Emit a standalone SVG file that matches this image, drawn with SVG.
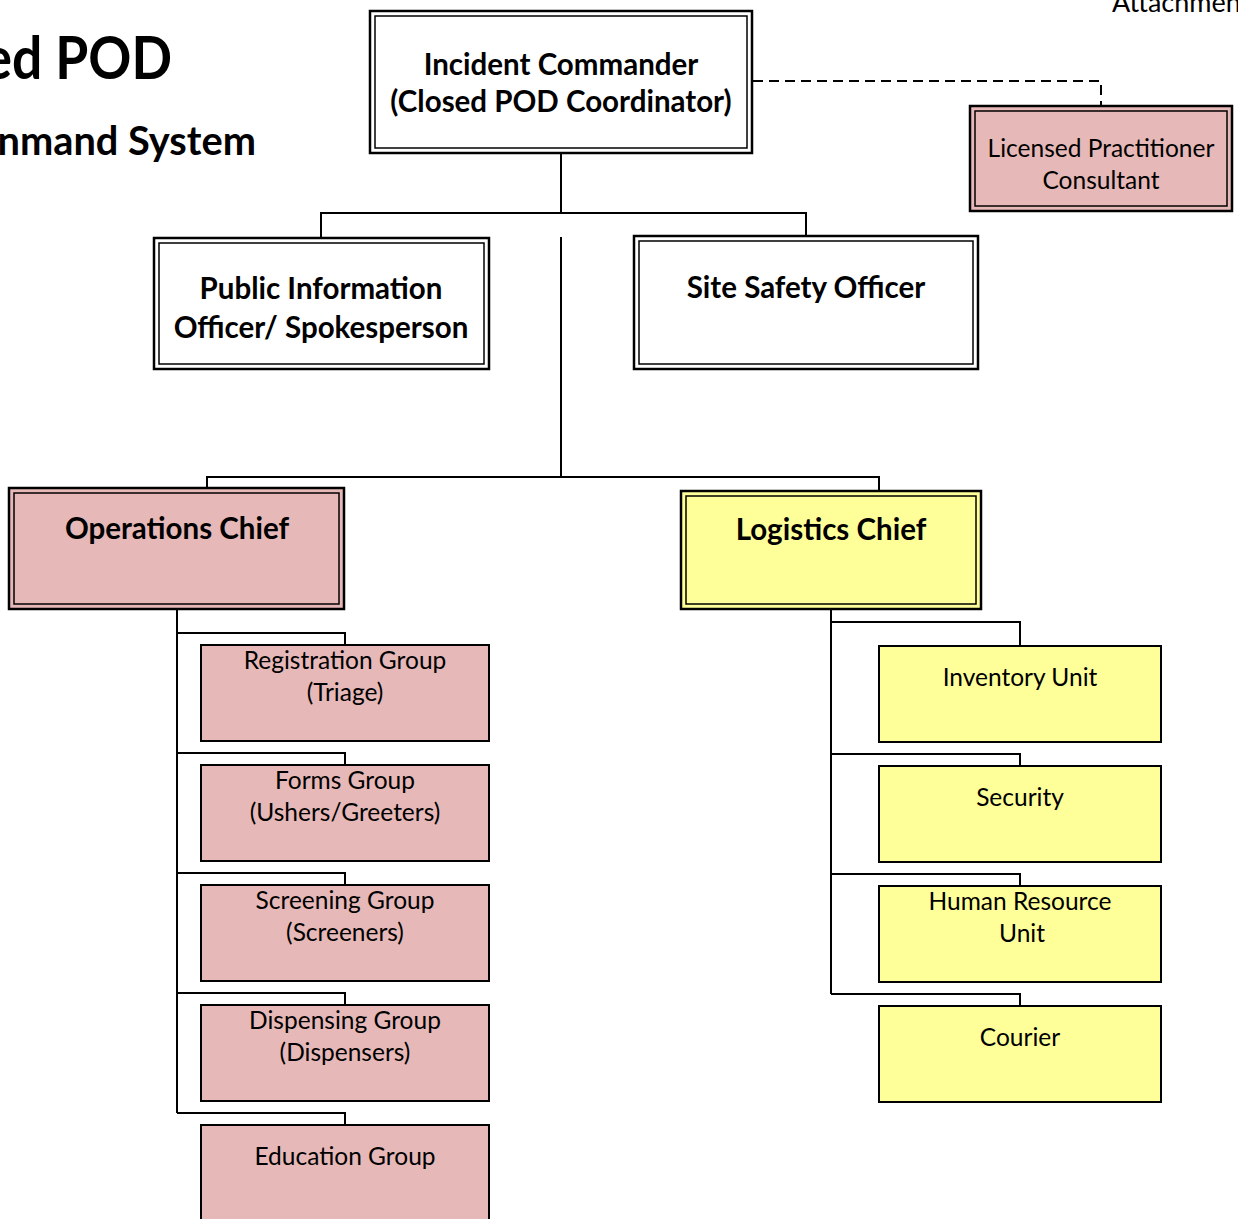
<svg xmlns="http://www.w3.org/2000/svg" width="1238" height="1219" viewBox="0 0 1238 1219">
<style>
text{font-family:Lato,"Open Sans","Liberation Sans",sans-serif;fill:#000;text-anchor:middle}
.b{font-weight:bold;font-size:29.5px}
.r{font-size:24.5px}
.o{fill:none;stroke:#000;stroke-width:2.5}
.i{fill:none;stroke:#000;stroke-width:1.5}
.pink{fill:#e6b8b7}
.yel{fill:#ffff99}
.wh{fill:#fff}
.s{stroke:#000;stroke-width:2}
.c{fill:none;stroke:#000;stroke-width:2}
</style>
<rect width="1238" height="1219" fill="#fff"/>
<g id="title">
<text transform="translate(172,79) scale(0.89,1)" x="0" y="0" style="font-weight:bold;font-size:60px;text-anchor:end">ed POD</text>
<text transform="translate(256,155) scale(0.97,1)" x="0" y="0" style="font-weight:bold;font-size:41px;text-anchor:end">nmand System</text>
<text x="1112" y="12" style="font-size:27px;text-anchor:start">Attachment</text>
</g>
<g id="connectors">
<path class="c" d="M561,154 V213 M321,238 V213 H806 V236"/>
<path class="c" d="M561,237 V477 M207,488 V477 H879 V491"/>
<path class="c" d="M753,81 H1101 V105" stroke-dasharray="10,6"/>
<path class="c" d="M177,610 V1113 M177,633 H345 V645 M177,753 H345 V765 M177,873 H345 V885 M177,993 H345 V1005 M177,1113 H345 V1125"/>
<path class="c" d="M831,610 V994 M831,622 H1020 V646 M831,754 H1020 V766 M831,874 H1020 V886 M831,994 H1020 V1006"/>
</g>
<g id="ic">
<rect class="wh o" x="370" y="11" width="382" height="142"/>
<rect class="i" x="375" y="16" width="372" height="132"/>
<text class="b" x="561" y="75">Incident Commander</text>
<text class="b" x="561" y="112">(Closed POD Coordinator)</text>
</g>
<g id="lpc">
<rect class="pink o" x="970" y="106" width="262" height="105"/>
<rect class="i" x="975" y="111" width="252" height="95"/>
<text class="r" x="1101" y="157">Licensed Practitioner</text>
<text class="r" x="1101" y="189">Consultant</text>
</g>
<g id="pio">
<rect class="wh o" x="154" y="238" width="335" height="131"/>
<rect class="i" x="159" y="243" width="325" height="121"/>
<text class="b" x="321" y="299">Public Information</text>
<text class="b" x="321" y="338">Officer/ Spokesperson</text>
</g>
<g id="sso">
<rect class="wh o" x="634" y="236" width="344" height="133"/>
<rect class="i" x="639" y="241" width="334" height="123"/>
<text class="b" x="806" y="298">Site Safety Officer</text>
</g>
<g id="ops">
<rect class="pink o" x="9" y="488" width="335" height="121"/>
<rect class="i" x="14" y="493" width="325" height="111"/>
<text class="b" x="177" y="539">Operations Chief</text>
</g>
<g id="log">
<rect class="yel o" x="681" y="491" width="300" height="118"/>
<rect class="i" x="686" y="496" width="290" height="108"/>
<text class="b" x="831" y="540">Logistics Chief</text>
</g>
<g id="reg"><rect class="pink s" x="201" y="645" width="288" height="96"/><text class="r" x="345" y="669">Registration Group</text><text class="r" x="345" y="701">(Triage)</text></g>
<g id="forms"><rect class="pink s" x="201" y="765" width="288" height="96"/><text class="r" x="345" y="789">Forms Group</text><text class="r" x="345" y="821">(Ushers/Greeters)</text></g>
<g id="screen"><rect class="pink s" x="201" y="885" width="288" height="96"/><text class="r" x="345" y="909">Screening Group</text><text class="r" x="345" y="941">(Screeners)</text></g>
<g id="disp"><rect class="pink s" x="201" y="1005" width="288" height="96"/><text class="r" x="345" y="1029">Dispensing Group</text><text class="r" x="345" y="1061">(Dispensers)</text></g>
<g id="edu"><rect class="pink s" x="201" y="1125" width="288" height="110"/><text class="r" x="345" y="1165">Education Group</text></g>
<g id="inv"><rect class="yel s" x="879" y="646" width="282" height="96"/><text class="r" x="1020" y="686">Inventory Unit</text></g>
<g id="sec"><rect class="yel s" x="879" y="766" width="282" height="96"/><text class="r" x="1020" y="806">Security</text></g>
<g id="hr"><rect class="yel s" x="879" y="886" width="282" height="96"/><text class="r" x="1020" y="910">Human Resource</text><text class="r" x="1022" y="942">Unit</text></g>
<g id="cour"><rect class="yel s" x="879" y="1006" width="282" height="96"/><text class="r" x="1020" y="1046">Courier</text></g>
</svg>
